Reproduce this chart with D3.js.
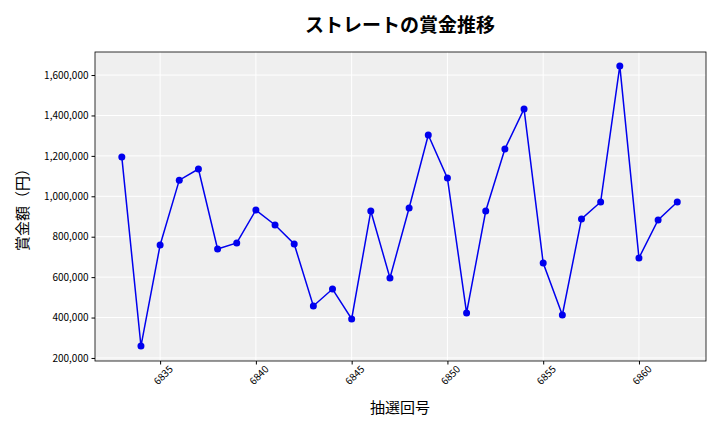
<!DOCTYPE html>
<html><head><meta charset="utf-8">
<script src="https://cdn.jsdelivr.net/npm/d3@7"></script>
<style>body{margin:0;background:#fff}text{font-family:"Noto Sans CJK JP","DejaVu Sans",sans-serif}</style>
</head><body><svg id="c" width="720" height="432"></svg>
<script>
const draws = d3.range(6833, 6863);
const prizes = [1194000,259000,759000,1080000,1135000,739000,769000,932000,858000,764000,457000,541000,393000,927000,596000,942000,1303000,1090000,423000,927000,1234000,1432000,670000,413000,888000,972000,1645000,695000,883000,972000];
const xTicks = [6835,6840,6845,6850,6855,6860];
const yTicks = [200000,400000,600000,800000,1000000,1200000,1400000,1600000];

const svg = d3.select("#c");
const L=95,R=706,T=52,B=361;
const x = d3.scaleLinear().domain([6831.6,6863.5]).range([L,R]);
const y = d3.scaleLinear().domain([185000,1714000]).range([B,T]);
svg.append("rect").attr("x",L).attr("y",T).attr("width",R-L).attr("height",B-T).attr("fill","#efefef");
svg.append("g").selectAll("line").data(xTicks).join("line").attr("x1",d=>x(d)).attr("x2",d=>x(d)).attr("y1",T).attr("y2",B).attr("stroke","#fff").attr("stroke-width",1);
svg.append("g").selectAll("line").data(yTicks).join("line").attr("y1",d=>y(d)).attr("y2",d=>y(d)).attr("x1",L).attr("x2",R).attr("stroke","#fff").attr("stroke-width",1);
svg.append("rect").attr("x",L).attr("y",T).attr("width",R-L).attr("height",B-T).attr("fill","none").attr("stroke","#000").attr("stroke-width",0.8);
const xa = svg.append("g").attr("transform",`translate(0,${B})`).call(d3.axisBottom(x).tickValues(xTicks).tickFormat(d3.format("d")).tickSizeOuter(0).tickSize(3.5));
xa.select(".domain").remove();
xa.selectAll("text").attr("font-size",10).attr("text-anchor","end").attr("dx","0.3em").attr("dy","0.9em").attr("transform","rotate(-45)");
const ya = svg.append("g").attr("transform",`translate(${L},0)`).call(d3.axisLeft(y).tickValues(yTicks).tickFormat(d3.format(",")).tickSizeOuter(0).tickSize(3.5));
ya.select(".domain").remove();
ya.selectAll("text").attr("font-size",10);
const line = d3.line().x((d,i)=>x(draws[i])).y(d=>y(d));
svg.append("path").datum(prizes).attr("d",line).attr("fill","none").attr("stroke","#0000ee").attr("stroke-width",1.5);
svg.append("g").selectAll("circle").data(prizes).join("circle").attr("cx",(d,i)=>x(draws[i])).attr("cy",d=>y(d)).attr("r",3.5).attr("fill","#0000ee");
svg.append("text").attr("x",400).attr("y",32).attr("text-anchor","middle").attr("font-size",19).attr("font-weight","bold").text("ストレートの賞金推移");
svg.append("text").attr("x",400).attr("y",413).attr("text-anchor","middle").attr("font-size",15).text("抽選回号");
svg.append("text").attr("transform","translate(28,206) rotate(-90)").attr("text-anchor","middle").attr("font-size",15).text("賞金額（円）");
</script></body></html>
